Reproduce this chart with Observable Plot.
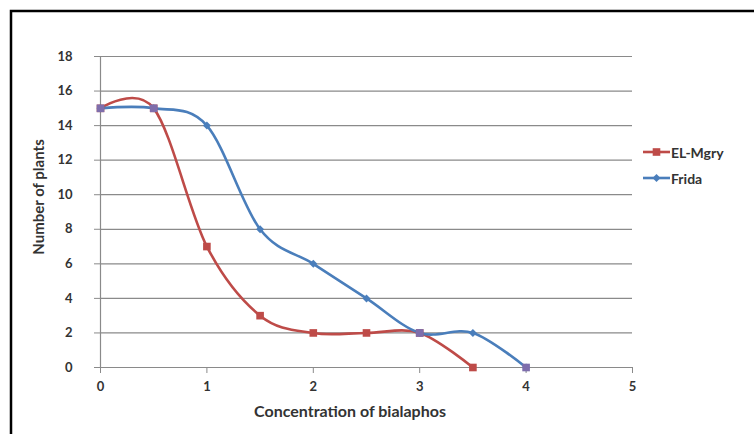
<!DOCTYPE html>
<html>
<head>
<meta charset="utf-8">
<script src="https://cdn.jsdelivr.net/npm/d3@7"></script>
<script src="https://cdn.jsdelivr.net/npm/@observablehq/plot@0.6"></script>
<style>
  html, body { margin: 0; padding: 0; background: #fff; }
  #chart { width: 754px; height: 434px; overflow: hidden; }
</style>
</head>
<body>
<div id="chart"></div>
<script>
// ---- data ----
const concentrations = [0, 0.5, 1, 1.5, 2, 2.5, 3, 3.5, 4];
const elMgryValues = [15, 15, 7, 3, 2, 2, 2, 0];
const fridaValues = [15, 15, 14, 8, 6, 4, 2, 2, 0];
const seriesNames = ["EL-Mgry", "Frida"];
const seriesColors = ["#BE4B48", "#4A7EBB"];
const overlapColor = "#7E6EAC";
const overlapX = [0, 0.5, 3, 4]; // points where both markers coincide (drawn purple)
const xTicks = [0, 1, 2, 3, 4, 5];
const yTicks = [0, 2, 4, 6, 8, 10, 12, 14, 16, 18];
const xTitle = "Concentration of bialaphos";
const yTitle = "Number of plants";

const elMgry = elMgryValues.map((v, i) => ({x: concentrations[i], y: v}));
const frida = fridaValues.map((v, i) => ({x: concentrations[i], y: v}));
const overlaps = frida.filter(d => overlapX.includes(d.x));

const font = "Lato, 'Open Sans', sans-serif";

const plot = Plot.plot({
  width: 754,
  height: 434,
  marginLeft: 100,
  marginRight: 122,
  marginTop: 56,
  marginBottom: 67,
  style: {fontFamily: font, background: "#fff", overflow: "visible"},
  x: {domain: [0, 5]},
  y: {domain: [0, 18]},
  marks: [
    Plot.ruleY(yTicks.filter(d => d > 0), {stroke: "#8a8a8a", strokeWidth: 1.2}),
    Plot.ruleX([0], {stroke: "#8a8a8a", strokeWidth: 1.2}),
    Plot.ruleY([0], {stroke: "#8a8a8a", strokeWidth: 1.2}),
    Plot.axisY({ticks: yTicks, tickFormat: d => String(d), tickSize: 6, tickPadding: 22, stroke: "#8a8a8a", label: null,
      fontSize: 13, fontWeight: "bold", fill: "#333"}),
    Plot.axisX({ticks: xTicks, tickFormat: d => String(d), tickSize: 6, tickPadding: 8, stroke: "#8a8a8a", label: null,
      fontSize: 13, fontWeight: "bold", fill: "#333"}),
    Plot.line(elMgry, {x: "x", y: "y", curve: "cardinal", stroke: seriesColors[0], strokeWidth: 2.6}),
    Plot.line(frida, {x: "x", y: "y", curve: "cardinal", stroke: seriesColors[1], strokeWidth: 2.6}),
    Plot.dot(elMgry, {x: "x", y: "y", symbol: "square", r: 4.3, fill: seriesColors[0], stroke: "none"}),
    Plot.dot(frida, {x: "x", y: "y", symbol: "diamond2", r: 3.6, fill: seriesColors[1], stroke: "none"}),
    Plot.dot(overlaps, {x: "x", y: "y", symbol: "square", r: 4.3, fill: overlapColor, stroke: "none"})
  ]
});

document.getElementById("chart").appendChild(plot);

const svg = d3.select(plot);

// axis titles
svg.append("text")
  .attr("x", 350).attr("y", 410)
  .attr("text-anchor", "middle").attr("dominant-baseline", "central")
  .attr("font-family", font).attr("font-size", 16).attr("font-weight", "bold")
  .attr("fill", "#333").text(xTitle);

svg.append("text")
  .attr("transform", "translate(38,197) rotate(-90)")
  .attr("text-anchor", "middle").attr("dominant-baseline", "central")
  .attr("font-family", "'Liberation Sans Narrow', Lato, sans-serif").attr("font-size", 15).attr("font-weight", "bold")
  .attr("fill", "#333").text(yTitle);

// legend
const legendY = [152, 178];
const symbols = [d3.symbolSquare, d3.symbolDiamond2];
const sizes = [58, 40];
seriesNames.forEach((name, i) => {
  const g = svg.append("g").attr("transform", `translate(0,${legendY[i]})`);
  g.append("line").attr("x1", 643).attr("x2", 670).attr("y1", 0).attr("y2", 0)
    .attr("stroke", seriesColors[i]).attr("stroke-width", 2.6);
  g.append("path").attr("d", d3.symbol(symbols[i], sizes[i])())
    .attr("transform", "translate(656.5,0)").attr("fill", seriesColors[i]);
  g.append("text").attr("x", 671).attr("y", 0).attr("dominant-baseline", "central")
    .attr("text-anchor", "start")
    .attr("font-family", font).attr("font-size", 14).attr("font-weight", "bold")
    .attr("fill", "#333").text(name);
});

// outer chart border
svg.append("rect").attr("x", 11).attr("y", 11).attr("width", 780).attr("height", 460)
  .attr("fill", "none").attr("stroke", "#000").attr("stroke-width", 2.5);
</script>
</body>
</html>
